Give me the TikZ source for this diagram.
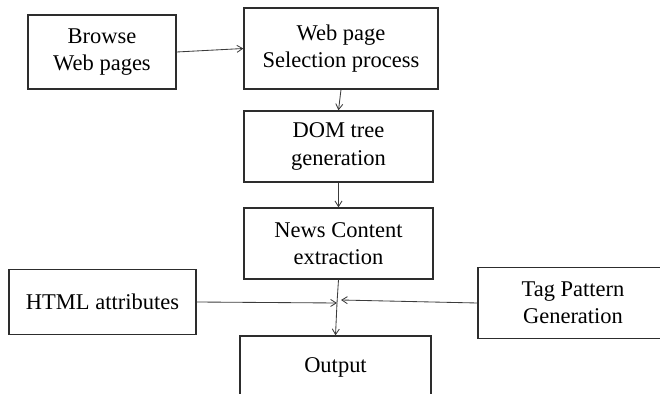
\documentclass[tikz,border=0pt]{standalone}
\usepackage{fontspec}
\setmainfont{Liberation Serif}
\usepackage{tikz}
\usetikzlibrary{arrows.meta, positioning}
\usepackage{xcolor}
\definecolor{boxline}{RGB}{45,45,45}
\definecolor{linkgray}{RGB}{60,60,60}
\tikzset{
  stage/.style={draw=boxline, line width=0.9pt, fill=white, align=center,
                inner sep=2pt, font=\fontsize{16}{19.5}\selectfont},
  arrow/.style={-{Straight Barb[length=4pt, width=5pt]}, line width=0.6pt, linkgray},
  link/.style={line width=0.6pt, linkgray},
}

\begin{document}
\begin{tikzpicture}[x=0.025cm, y=-0.025cm]

\useasboundingbox (0,0) rectangle (660,394);
\clip (0,0) rectangle (660,394);

% --- top row ---
\node[stage, minimum width=3.70cm, minimum height=1.85cm] (browse) at (102, 52)
    {Browse\\Web pages};
\node[stage, minimum width=4.85cm, minimum height=2.025cm] (select) at (341, 48.5)
    {Web page\\Selection process};

% --- main column ---
\node[stage, minimum width=4.725cm, minimum height=1.775cm] (dom) at (338.5, 146.5)
    {DOM tree\\generation};
\node[stage, minimum width=4.725cm, minimum height=1.775cm] (news) at (338.5, 243.5)
    {News Content\\extraction};
\node[stage, minimum width=4.775cm, minimum height=1.55cm] (output) at (335.5, 367)
    {Output};

% --- side inputs ---
\node[stage, minimum width=4.675cm, minimum height=1.625cm] (html) at (102.5, 302)
    {HTML attributes};
\node[stage, minimum width=4.75cm, minimum height=1.775cm] (tag) at (573, 303)
    {Tag Pattern\\Generation};

\coordinate (join) at (337, 303);
\coordinate (joinr) at (341, 300);

% --- connectors ---
\draw[arrow] (browse.east) -- (select.west);
\draw[arrow] (select.south) -- (dom.north);
\draw[arrow] (dom.south) -- (news.north);
\draw[link]  (news.south) -- (join);
\draw[arrow] (html.east) -- (join);
\draw[arrow] (tag.west) -- (joinr);
\draw[arrow] (join) -- (output.north);

\end{tikzpicture}
\end{document}
